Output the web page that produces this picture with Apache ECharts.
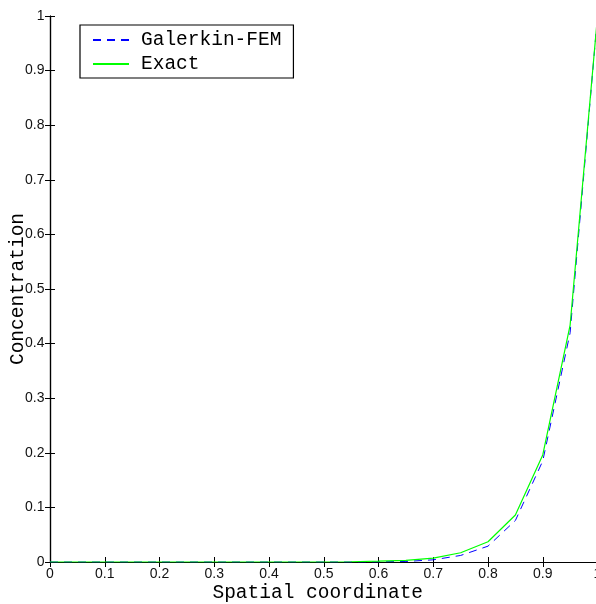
<!DOCTYPE html>
<html>
<head>
<meta charset="utf-8">
<script src="https://cdn.jsdelivr.net/npm/echarts@6/dist/echarts.min.js"></script>
<style>html,body{margin:0;padding:0;background:#fff;}#c{width:596px;height:604px;}</style>
</head>
<body>
<div id="c"></div>
<script>
const xNodes = [0,0.05,0.1,0.15,0.2,0.25,0.3,0.35,0.4,0.45,0.5,0.55,0.6,0.65,0.7,0.75,0.8,0.85,0.9,0.95,1.0];
const femValues = [0,0,0,0,0,0,0,0,0,0,0,0,0.0003,0.001,0.004,0.012,0.029,0.076,0.185,0.42,1.0];
const exactValues = [0,0,0,0,0,0,0,0,0,0,0,0.0005,0.0015,0.003,0.007,0.017,0.037,0.086,0.196,0.434,1.0];
const seriesNames = ['Galerkin-FEM','Exact'];
const xTitle = 'Spatial coordinate';
const yTitle = 'Concentration';

const chart = echarts.init(document.getElementById('c'), null, {renderer:'canvas'});
const fmt = v => String(+(+v).toFixed(1));
const tickCommon = {show:true, inside:true, length:5, lineStyle:{color:'#000', width:1}};
const lineCommon = {show:true, lineStyle:{color:'#000', width:1.2}};
const labelFont = {fontFamily:'"Liberation Sans Narrow", "Liberation Sans", sans-serif', fontSize:14, color:'#111'};
const titleFont = {fontFamily:'"Liberation Mono", monospace', fontSize:19.5, color:'#000'};

chart.setOption({
  animation:false,
  backgroundColor:'#fff',
  grid:{left:50, top:16, width:547.5, height:546, containLabel:false, outerBoundsMode:'none'},
  legend:{
    left:80, top:25, orient:'vertical',
    data:seriesNames,
    itemWidth:36, itemHeight:14, itemGap:4,
    padding:[5,12,4,12],
    borderColor:'#000', borderWidth:1.2, backgroundColor:'#fff',
    itemStyle:{color:'rgba(0,0,0,0)', borderWidth:0, opacity:0},
    textStyle:{fontFamily:'"Liberation Mono", monospace', fontSize:19.5, color:'#000', padding:[0,0,0,7]}
  },
  xAxis:[
    {type:'value', min:0, max:1, interval:0.1, position:'bottom',
     axisLine:lineCommon, axisTick:tickCommon, splitLine:{show:false},
     axisLabel:Object.assign({formatter:fmt, margin:5}, labelFont),
     name:xTitle, nameLocation:'middle', nameGap:21, nameMoveOverlap:false,
     nameTextStyle:Object.assign({padding:[0,12,0,0]}, titleFont)},
    {type:'value', min:0, max:1, interval:0.1, position:'top',
     axisLine:lineCommon, axisTick:tickCommon, splitLine:{show:false}, axisLabel:{show:false}}
  ],
  yAxis:[
    {type:'value', min:0, max:1, interval:0.1, position:'left',
     axisLine:lineCommon, axisTick:tickCommon, splitLine:{show:false},
     axisLabel:Object.assign({formatter:fmt, margin:5.5}, labelFont),
     name:yTitle, nameLocation:'middle', nameGap:22, nameMoveOverlap:false, nameRotate:90, nameTextStyle:titleFont},
    {type:'value', min:0, max:1, interval:0.1, position:'right',
     axisLine:lineCommon, axisTick:tickCommon, splitLine:{show:false}, axisLabel:{show:false}}
  ],
  series:[
    {name:seriesNames[0], type:'line', xAxisIndex:0, yAxisIndex:0, symbol:'none',
     data:xNodes.map((x,i)=>[x, femValues[i]]),
     lineStyle:{color:'#0000ff', width:1, type:[8,6]}, itemStyle:{color:'#0000ff'}, z:2},
    {name:seriesNames[1], type:'line', xAxisIndex:0, yAxisIndex:0, symbol:'none',
     data:xNodes.map((x,i)=>[x, exactValues[i]]),
     lineStyle:{color:'#00ff00', width:1.2}, itemStyle:{color:'#00ff00'}, z:3}
  ]
});
</script>
</body>
</html>
